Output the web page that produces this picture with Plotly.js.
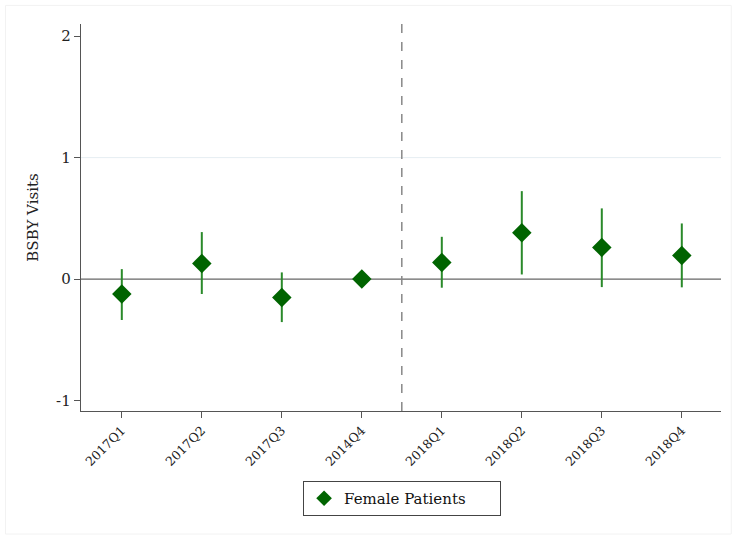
<!DOCTYPE html>
<html>
<head>
<meta charset="utf-8">
<script src="https://cdn.plot.ly/plotly-3.0.1.min.js"></script>
<style>html,body{margin:0;padding:0;background:#fff;}#chart{width:736px;height:539px;}</style>
</head>
<body>
<div id="chart"></div>
<script>
var quarters = ["2017Q1","2017Q2","2017Q3","2014Q4","2018Q1","2018Q2","2018Q3","2018Q4"];
var estimates = [-0.123, 0.129, -0.151, 0.0, 0.137, 0.381, 0.261, 0.195];
var ciUpper = [0.082, 0.387, 0.055, 0.0, 0.348, 0.724, 0.582, 0.458];
var ciLower = [-0.337, -0.123, -0.354, 0.0, -0.071, 0.038, -0.066, -0.068];
var yTicks = [-1, 0, 1, 2];

var errPlus = estimates.map(function(v,i){return ciUpper[i]-v;});
var errMinus = estimates.map(function(v,i){return v-ciLower[i];});

var trace = {
  x: quarters, y: estimates, type: 'scatter', mode: 'markers',
  name: 'Female Patients',
  marker: {symbol: 'diamond', size: 15, color: '#006400'},
  error_y: {type: 'data', symmetric: false, array: errPlus, arrayminus: errMinus,
            color: '#2a8a2a', thickness: 2, width: 0}
};

var serif = "DejaVu Serif";
var layout = {
  width: 736, height: 539,
  margin: {l: 81, r: 15, t: 24, b: 128},
  paper_bgcolor: '#fff', plot_bgcolor: '#fff',
  font: {family: serif, color: '#222'},
  showlegend: true,
  legend: {orientation: 'h', x: 0.347, xanchor: 'left', y: -0.181, yanchor: 'top',
           bordercolor: '#444', borderwidth: 1, font: {size: 15, family: serif, color: '#111'},
           itemwidth: 30, entrywidth: 151, entrywidthmode: 'pixels', itemsizing: 'constant'},
  xaxis: {type: 'category', range: [-0.51, 7.49], showgrid: false, zeroline: false,
          showline: true, linecolor: '#555', linewidth: 1.3, ticks: 'outside', ticklen: 6,
          tickcolor: '#555', tickangle: -45, tickfont: {size: 12.5, family: serif, color: '#222'}},
  yaxis: {range: [-1.086, 2.1], tickvals: yTicks, ticktext: yTicks.map(String),
          showgrid: false, zeroline: false, showline: true, linecolor: '#555', linewidth: 1.3,
          ticks: 'outside', ticklen: 6, tickcolor: '#555',
          tickfont: {size: 15, family: serif, color: '#222'},
          title: {text: 'BSBY Visits', font: {size: 15, family: serif, color: '#222'}, standoff: 13}},
  shapes: [
    {type: 'line', xref: 'paper', x0: 0, x1: 1, yref: 'y', y0: 1, y1: 1,
     line: {color: '#e6eef2', width: 1}, layer: 'below'},
    {type: 'line', xref: 'paper', x0: 0, x1: 1, yref: 'y', y0: 0, y1: 0,
     line: {color: '#666', width: 1.3}, layer: 'below'},
    {type: 'line', xref: 'x', x0: 3.5, x1: 3.5, yref: 'paper', y0: 0, y1: 1,
     line: {color: '#888', width: 1.5, dash: 'dash'}, layer: 'below'},
    {type: 'rect', xref: 'paper', yref: 'paper', x0: -0.118, x1: 1.016, y0: -0.318, y1: 1.048,
     line: {color: '#f2f2f2', width: 1}, layer: 'below'}
  ]
};

Plotly.newPlot('chart', [trace], layout, {displayModeBar: false, staticPlot: true});
</script>
</body>
</html>
